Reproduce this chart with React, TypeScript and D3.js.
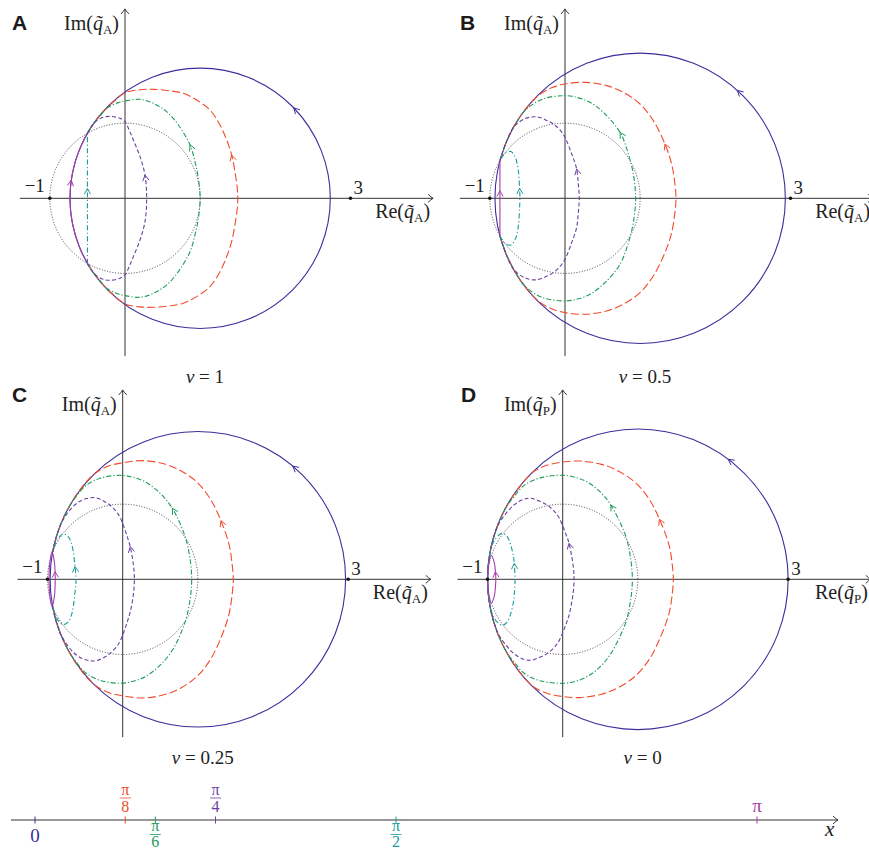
import React, { useEffect, useRef } from "react";
import * as d3 from "d3";

type Pt = [number, number];

// ---------------- data ----------------
const panelLetters = ["A", "B", "C", "D"];
const panelSubscripts = ["A", "A", "A", "P"];
const nuValues = ["1", "0.5", "0.25", "0"];
const markedPoints = [-1, 3];
const unitCircleRadius = 1;
const blueCenter = 1;
const blueRadius = [1.732, 1.932, 1.966, 2.0];
const blueArrowDeg = [44, 48, 50, 53];

const xTickValues = [0, Math.PI / 8, Math.PI / 6, Math.PI / 4, Math.PI / 2, Math.PI];
const xTickNumerators = ["0", "π", "π", "π", "π", "π"];
const xTickDenominators = ["", "8", "6", "4", "2", ""];

// upper halves of the loops (Re, Im); lower halves are mirror images
const redA: Pt[] = [[-0.5, 0.866], [-0.414, 1.0], [-0.304, 1.14], [-0.17, 1.27], [0.0, 1.405], [0.2, 1.445], [0.377, 1.45], [0.6, 1.43], [0.776, 1.397], [0.953, 1.308], [1.131, 1.175], [1.264, 0.976], [1.353, 0.776], [1.419, 0.576], [1.463, 0.355], [1.494, 0.133], [1.5, 0]];
const greenA: Pt[] = [[-0.5, 0.866], [-0.414, 1.0], [-0.33, 1.1], [-0.244, 1.197], [-0.1, 1.27], [0.0, 1.295], [0.2, 1.317], [0.377, 1.264], [0.554, 1.153], [0.71, 0.976], [0.865, 0.71], [0.931, 0.488], [0.976, 0.266], [1.0, 0]];
const purpleA: Pt[] = [[-0.5, 0.866], [-0.414, 1.0], [-0.3, 1.075], [-0.2, 1.09], [-0.067, 1.064], [0.0, 1.02], [0.055, 0.91], [0.111, 0.776], [0.2, 0.554], [0.266, 0.31], [0.288, 0]];
const tealA: Pt[] = [[-0.5, 0.866], [-0.5, 0.13], [-0.5, 0]];
const magentaA: Pt[] = [[-0.5, 0.866], [-0.584, 0.7], [-0.658, 0.5], [-0.715, 0.24], [-0.732, 0]];

const redB: Pt[] = [[-0.866, 0.5], [-0.78, 0.75], [-0.653, 1.0], [-0.514, 1.2], [-0.35, 1.37], [-0.18, 1.47], [0.0, 1.521], [0.266, 1.543], [0.554, 1.499], [0.776, 1.41], [0.998, 1.255], [1.175, 1.033], [1.33, 0.723], [1.419, 0.457], [1.463, 0.19], [1.477, 0]];
const greenB: Pt[] = [[-0.866, 0.5], [-0.78, 0.75], [-0.653, 1.0], [-0.53, 1.17], [-0.3, 1.32], [0.0, 1.366], [0.17, 1.34], [0.333, 1.277], [0.51, 1.144], [0.732, 0.878], [0.843, 0.59], [0.909, 0.324], [0.94, 0]];
const purpleB: Pt[] = [[-0.866, 0.5], [-0.78, 0.75], [-0.68, 0.95], [-0.53, 1.06], [-0.378, 1.085], [-0.25, 1.04], [-0.155, 0.989], [-0.06, 0.9], [0.0, 0.811], [0.089, 0.59], [0.155, 0.39], [0.177, 0.19], [0.19, 0]];
const tealB: Pt[] = [[-0.866, 0.5], [-0.8, 0.6], [-0.72, 0.622], [-0.66, 0.54], [-0.622, 0.38], [-0.605, 0.133], [-0.6, 0]];
const magentaB: Pt[] = [[-0.866, 0.5], [-0.866, 0.1], [-0.866, 0]];

const redC: Pt[] = [[-0.93, 0.368], [-0.902, 0.5], [-0.818, 0.75], [-0.711, 0.97], [-0.57, 1.19], [-0.38, 1.4], [-0.18, 1.51], [0.0, 1.55], [0.275, 1.579], [0.56, 1.534], [0.779, 1.442], [0.998, 1.284], [1.173, 1.057], [1.307, 0.78], [1.414, 0.468], [1.457, 0.194], [1.472, 0]];
const greenC: Pt[] = [[-0.93, 0.368], [-0.902, 0.5], [-0.818, 0.75], [-0.711, 0.97], [-0.62, 1.1], [-0.5, 1.24], [-0.3, 1.345], [-0.035, 1.384], [0.137, 1.357], [0.303, 1.294], [0.482, 1.159], [0.66, 0.945], [0.82, 0.598], [0.887, 0.328], [0.918, 0]];
const purpleC: Pt[] = [[-0.93, 0.368], [-0.902, 0.5], [-0.83, 0.72], [-0.72, 0.9], [-0.6, 1.02], [-0.48, 1.075], [-0.368, 1.086], [-0.25, 1.04], [-0.172, 0.989], [-0.084, 0.9], [-0.029, 0.811], [0.053, 0.59], [0.1, 0.435], [0.143, 0.19], [0.155, 0]];
const tealC: Pt[] = [[-0.93, 0.368], [-0.87, 0.53], [-0.789, 0.603], [-0.72, 0.56], [-0.67, 0.43], [-0.635, 0.17], [-0.621, 0]];
const magentaC: Pt[] = [[-0.98, 0], [-0.972, 0.2], [-0.94, 0.368], [-0.908, 0.22], [-0.9, 0.1], [-0.898, 0]];

const redD: Pt[] = [[-1, 0], [-0.984, 0.25], [-0.936, 0.5], [-0.854, 0.75], [-0.745, 0.97], [-0.605, 1.19], [-0.39, 1.43], [-0.2, 1.52], [0.0, 1.56], [0.217, 1.574], [0.515, 1.529], [0.745, 1.438], [0.975, 1.28], [1.159, 1.054], [1.287, 0.8], [1.412, 0.466], [1.458, 0.194], [1.472, 0]];
const greenD: Pt[] = [[-1, 0], [-0.984, 0.25], [-0.936, 0.5], [-0.854, 0.75], [-0.745, 0.97], [-0.647, 1.1], [-0.514, 1.25], [-0.3, 1.35], [0.0, 1.384], [0.168, 1.357], [0.328, 1.294], [0.503, 1.159], [0.64, 0.989], [0.831, 0.598], [0.896, 0.328], [0.927, 0]];
const purpleD: Pt[] = [[-1, 0], [-0.984, 0.25], [-0.936, 0.5], [-0.86, 0.72], [-0.76, 0.87], [-0.647, 0.99], [-0.53, 1.06], [-0.426, 1.078], [-0.296, 1.034], [-0.199, 0.983], [-0.103, 0.895], [-0.042, 0.806], [0.048, 0.586], [0.084, 0.479], [0.138, 0.189], [0.151, 0]];
const tealD: Pt[] = [[-1, 0], [-0.984, 0.25], [-0.94, 0.45], [-0.88, 0.56], [-0.803, 0.612], [-0.74, 0.57], [-0.69, 0.45], [-0.655, 0.3], [-0.645, 0.213], [-0.634, 0]];
const magentaD: Pt[] = [[-0.995, 0], [-0.985, 0.2], [-0.95, 0.32], [-0.91, 0.22], [-0.895, 0.1], [-0.89, 0]];

const curvesByPanel: Pt[][][] = [
  [redA, greenA, purpleA, tealA, magentaA],
  [redB, greenB, purpleB, tealB, magentaB],
  [redC, greenC, purpleC, tealC, magentaC],
  [redD, greenD, purpleD, tealD, magentaD],
];
// index of the control point carrying the direction arrow
const arrowIndexByPanel: number[][] = [
  [13, 10, 9, 1, 3],
  [12, 9, 10, 5, 1],
  [13, 11, 12, 5, 4],
  [14, 12, 13, 8, 4],
];

// ---------------- layout & style ----------------
const W = 869;
const H = 851;
const UNIT = 75.15;
const panelOrigins: Pt[] = [[125, 198.3], [565, 198.3], [122.7, 579.3], [562.7, 579.3]];
const letterPos: Pt[] = [[12, 30], [460, 30], [12, 402], [461, 402]];
const axisRe: Pt = [-1.4, 4.1];
const axisIm: Pt = [-2.1, 2.52];
const seriesColors = ["#3b2f9c", "#f24a2b", "#1e9b57", "#6c3fa3", "#1a9a9a", "#a53ca8"];
const seriesDash = ["none", "8 3.2", "5 2 1.2 2", "4 2.4", "5 2.4 1.2 2.4", "none"];
const tickAbove = [false, true, false, true, false, true];
const SERIF = "'Liberation Serif', 'DejaVu Serif', serif";
const SANS = "'Liberation Sans', Arial, sans-serif";
const AXIS_COLOR = "#333";
const TEXT_COLOR = "#222";

function buildPath(upper: Pt[]): { pts: Pt[]; closed: boolean } {
  const n = upper.length - 1;
  const mirror = (p: Pt): Pt => [p[0], -p[1]];
  if (upper[0][1] === 0) {
    const pts: Pt[] = [upper[0]];
    for (let i = 1; i < n; i++) pts.push(mirror(upper[i]));
    for (let i = n; i >= 1; i--) pts.push(upper[i]);
    return { pts, closed: true };
  }
  const pts: Pt[] = [];
  for (let i = 0; i < n; i++) pts.push(mirror(upper[i]));
  for (let i = n; i >= 0; i--) pts.push(upper[i]);
  return { pts, closed: false };
}

function chevron(g: any, x: number, y: number, ang: number, color: string) {
  const L = 6.5;
  const s = 0.5;
  const a1 = ang + Math.PI - s;
  const a2 = ang + Math.PI + s;
  g.append("path")
    .attr("d", `M${x + L * Math.cos(a1)},${y + L * Math.sin(a1)}L${x},${y}L${x + L * Math.cos(a2)},${y + L * Math.sin(a2)}`)
    .attr("fill", "none")
    .attr("stroke", color)
    .attr("stroke-width", 1);
}

function axisArrowRight(g: any, x: number, y: number) {
  g.append("path")
    .attr("d", `M${x - 5},${y - 4}Q${x - 2},${y - 1} ${x},${y}Q${x - 2},${y + 1} ${x - 5},${y + 4}`)
    .attr("fill", "none").attr("stroke", AXIS_COLOR).attr("stroke-width", 1);
}
function axisArrowUp(g: any, x: number, y: number) {
  g.append("path")
    .attr("d", `M${x - 4},${y + 5}Q${x - 1},${y + 2} ${x},${y}Q${x + 1},${y + 2} ${x + 4},${y + 5}`)
    .attr("fill", "none").attr("stroke", AXIS_COLOR).attr("stroke-width", 1);
}

function addQLabel(g: any, prefix: string, sub: string, x: number, y: number, anchor: string) {
  const t = g.append("text")
    .attr("x", x).attr("y", y)
    .attr("text-anchor", anchor)
    .style("font-family", SERIF)
    .attr("font-size", 20)
    .attr("fill", TEXT_COLOR);
  t.append("tspan").text(prefix + "(");
  t.append("tspan").attr("font-style", "italic").text("q\u0303");
  t.append("tspan").attr("font-size", 13).attr("dy", 4).text(sub);
  t.append("tspan").attr("dy", -4).text(")");
}

function drawPanel(svg: any, p: number) {
  const [ox, oy] = panelOrigins[p];
  const xs = d3.scaleLinear().domain([0, 1]).range([ox, ox + UNIT]);
  const ys = d3.scaleLinear().domain([0, 1]).range([oy, oy - UNIT]);
  const g = svg.append("g");

  // axes
  g.append("line")
    .attr("x1", xs(axisRe[0])).attr("x2", xs(axisRe[1]))
    .attr("y1", ys(0)).attr("y2", ys(0))
    .attr("stroke", AXIS_COLOR).attr("stroke-width", 1);
  axisArrowRight(g, xs(axisRe[1]), ys(0));
  g.append("line")
    .attr("x1", xs(0)).attr("x2", xs(0))
    .attr("y1", ys(axisIm[0])).attr("y2", ys(axisIm[1]))
    .attr("stroke", AXIS_COLOR).attr("stroke-width", 1);
  axisArrowUp(g, xs(0), ys(axisIm[1]));

  // unit circle (dotted)
  g.append("circle")
    .attr("cx", xs(0)).attr("cy", ys(0)).attr("r", xs(unitCircleRadius) - xs(0))
    .attr("fill", "none").attr("stroke", "#444").attr("stroke-width", 1)
    .attr("stroke-dasharray", "1 1.7");

  // x = 0 : circle
  const r = blueRadius[p];
  g.append("circle")
    .attr("cx", xs(blueCenter)).attr("cy", ys(0)).attr("r", xs(r) - xs(0))
    .attr("fill", "none").attr("stroke", seriesColors[0]).attr("stroke-width", 1.1);
  const th = (blueArrowDeg[p] * Math.PI) / 180;
  const bx = xs(blueCenter + r * Math.cos(th));
  const by = ys(r * Math.sin(th));
  chevron(g, bx, by, Math.atan2(-Math.cos(th), -Math.sin(th)), seriesColors[0]);

  // the other loops
  const line = d3.line<Pt>().x((d) => xs(d[0])).y((d) => ys(d[1]));
  curvesByPanel[p].forEach((upper, k) => {
    const s = k + 1;
    const { pts, closed } = buildPath(upper);
    line.curve(closed ? d3.curveCatmullRomClosed.alpha(0.5) : d3.curveCatmullRom.alpha(0.5));
    g.append("path")
      .attr("d", line(pts))
      .attr("fill", "none")
      .attr("stroke", seriesColors[s])
      .attr("stroke-width", 1.1)
      .attr("stroke-dasharray", seriesDash[s]);
    const i = arrowIndexByPanel[p][k];
    const a = upper[i - 1];
    const b = upper[i + 1];
    const ang = Math.atan2(ys(a[1]) - ys(b[1]), xs(a[0]) - xs(b[0]));
    chevron(g, xs(upper[i][0]), ys(upper[i][1]), ang, seriesColors[s]);
  });

  // marked points
  markedPoints.forEach((v) => {
    g.append("circle").attr("cx", xs(v)).attr("cy", ys(0)).attr("r", 1.8).attr("fill", "#111");
  });
  g.append("text")
    .attr("x", xs(markedPoints[0]) - 5).attr("y", ys(0) - 6)
    .attr("text-anchor", "end").style("font-family", SERIF).attr("font-size", 19)
    .attr("fill", TEXT_COLOR).text("\u2212" + Math.abs(markedPoints[0]));
  g.append("text")
    .attr("x", xs(markedPoints[1]) + 3).attr("y", ys(0) - 4)
    .style("font-family", SERIF).attr("font-size", 19)
    .attr("fill", TEXT_COLOR).text(String(markedPoints[1]));

  // axis labels
  addQLabel(g, "Re", panelSubscripts[p], xs(4.06), ys(0) + 20, "end");
  addQLabel(g, "Im", panelSubscripts[p], xs(0) - 6, ys(0) - 168.5, "end");

  // panel letter
  g.append("text")
    .attr("x", letterPos[p][0]).attr("y", letterPos[p][1])
    .style("font-family", SANS).attr("font-weight", "bold").attr("font-size", 21)
    .attr("fill", "#1a1a1a").text(panelLetters[p]);

  // nu label
  const nt = g.append("text")
    .attr("x", ox + 80).attr("y", oy + 185)
    .attr("text-anchor", "middle").style("font-family", SERIF).attr("font-size", 19)
    .attr("fill", TEXT_COLOR);
  nt.append("tspan").attr("font-style", "italic").text("ν");
  nt.append("tspan").text(" = " + nuValues[p]);
}

function drawBottomAxis(svg: any) {
  const y0 = 820;
  const xScale = d3.scaleLinear().domain([0, Math.PI]).range([35, 757]);
  const g = svg.append("g");
  g.append("line").attr("x1", 11).attr("x2", 838).attr("y1", y0).attr("y2", y0)
    .attr("stroke", AXIS_COLOR).attr("stroke-width", 1);
  axisArrowRight(g, 838, y0);
  g.append("text").attr("x", 825).attr("y", 836)
    .style("font-family", SERIF).attr("font-style", "italic").attr("font-size", 21)
    .attr("fill", TEXT_COLOR).text("x");

  xTickValues.forEach((v, i) => {
    const x = xScale(v);
    const c = seriesColors[i];
    g.append("line").attr("x1", x).attr("x2", x).attr("y1", y0 - 3.5).attr("y2", y0 + 3.5)
      .attr("stroke", c).attr("stroke-width", 1);
    const den = xTickDenominators[i];
    const above = tickAbove[i];
    if (!den) {
      g.append("text").attr("x", x).attr("y", above ? 812 : 842)
        .attr("text-anchor", "middle").style("font-family", SERIF).attr("font-size", 19)
        .attr("fill", c).text(xTickNumerators[i]);
    } else {
      const nb = above ? 795 : 831;
      const bar = above ? 798 : 834.5;
      const db = above ? 812 : 846.5;
      g.append("text").attr("x", x).attr("y", nb)
        .attr("text-anchor", "middle").style("font-family", SERIF).attr("font-size", 16)
        .attr("fill", c).text(xTickNumerators[i]);
      g.append("line").attr("x1", x - 5.5).attr("x2", x + 5.5).attr("y1", bar).attr("y2", bar)
        .attr("stroke", c).attr("stroke-width", 0.8);
      g.append("text").attr("x", x).attr("y", db)
        .attr("text-anchor", "middle").style("font-family", SERIF).attr("font-size", 16)
        .attr("fill", c).text(den);
    }
  });
}

export default function App() {
  const ref = useRef<SVGSVGElement>(null);
  useEffect(() => {
    const svg = d3.select(ref.current);
    svg.selectAll("*").remove();
    svg.append("rect").attr("width", W).attr("height", H).attr("fill", "#fff");
    for (let p = 0; p < 4; p++) drawPanel(svg, p);
    drawBottomAxis(svg);
  }, []);
  return (
    <svg
      ref={ref}
      width={W}
      height={H}
      style={{ position: "absolute", left: 0, top: 0, display: "block" }}
    />
  );
}
